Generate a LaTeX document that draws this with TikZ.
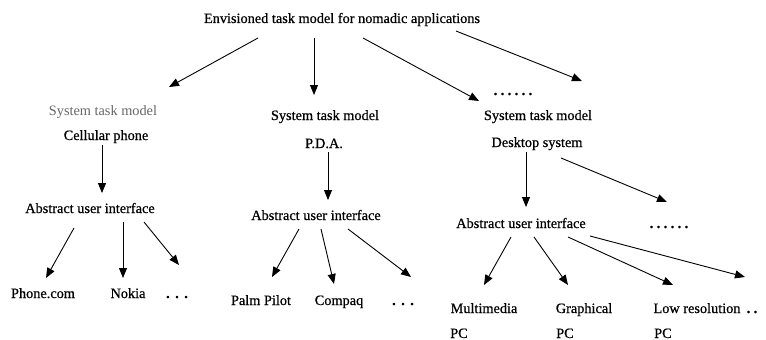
\documentclass[tikz,border=0pt]{standalone}
\usepackage{fontspec}
\setmainfont{Liberation Serif}
\newfontfamily\heavyserif[FakeBold=0.6]{Liberation Serif}
\usetikzlibrary{arrows.meta}
\tikzset{
  lbl/.style={inner sep=0pt, anchor=base, font=\heavyserif\fontsize{14.3}{17}\selectfont},
  lblw/.style={lbl, anchor=base west},
  lightlbl/.style={lbl, font=\rmfamily\fontsize{14.3}{17}\selectfont, text=black!60},
  conn/.style={line width=0.9pt, -{Triangle[length=10pt,width=8pt]}},
}
\newcommand\dotrow[2]{\textbf{.}\foreach \i in {2,...,#1}{\kern#2\textbf{.}}}
\begin{document}
\begin{tikzpicture}[x=1pt,y=-1pt]
\useasboundingbox[fill=white] (0,0) rectangle (766,340);
% texts
\node[lbl] (title) at (342,23) {Envisioned task model for nomadic applications};
\node[lightlbl] (stm1) at (103,115) {System task model};
\node[lbl] (cell) at (106,140) {Cellular phone};
\node[lbl] (stm2) at (325,120) {System task model};
\node[lbl] (pda) at (324,148) {P.D.A.};
\node[lbl] (stm3) at (538,120) {System task model};
\node[lbl] (desk) at (537,147) {Desktop system};
\node[lbl] (dotsA) at (513,95) {\dotrow{6}{3.4pt}};
\node[lbl] (aui1) at (90,213) {Abstract user interface};
\node[lbl] (aui2) at (316,220) {Abstract user interface};
\node[lbl] (aui3) at (521,228) {Abstract user interface};
\node[lbl] (dotsB) at (669,228) {\dotrow{6}{3.4pt}};
\node[lbl] (phone) at (43,298) {Phone.com};
\node[lbl] (nokia) at (128,298) {Nokia};
\node[lbl] (dots1) at (177,298) {\dotrow{3}{5.5pt}};
\node[lbl] (palm) at (261,305) {Palm Pilot};
\node[lbl] (compaq) at (339,305) {Compaq};
\node[lbl] (dots2) at (403,305) {\dotrow{3}{5.5pt}};
\node[lbl] (multi) at (484,313) {Multimedia};
\node[lblw] (pc1) at (450,338) {PC};
\node[lbl] (graph) at (584,313) {Graphical};
\node[lblw] (pc2) at (556,338) {PC};
\node[lbl] (lowres) at (697,313) {Low resolution};
\node[lbl] (dots3) at (752,313) {\dotrow{2}{3.4pt}};
\node[lblw] (pc3) at (654,338) {PC};
% connector end points
\coordinate (t1) at (258,38);  \coordinate (e1) at (169,87);
\coordinate (t2) at (314,38);  \coordinate (e2) at (314,95);
\coordinate (t3) at (363,38);  \coordinate (e3) at (479,101);
\coordinate (t4) at (456,31);  \coordinate (e4) at (582,81);
\coordinate (c1) at (102,145); \coordinate (ce1) at (102,193);
\coordinate (p1) at (328,152); \coordinate (pe1) at (328,200);
\coordinate (d1) at (526,152); \coordinate (de1) at (526,207);
\coordinate (d2) at (561,158); \coordinate (de2) at (667,202);
\coordinate (a1) at (74,228);  \coordinate (ae1) at (46,278);
\coordinate (a2) at (123,222); \coordinate (ae2) at (123,278);
\coordinate (a3) at (144,222); \coordinate (ae3) at (179,265);
\coordinate (b1) at (299,229); \coordinate (be1) at (272,277);
\coordinate (b2) at (321,229); \coordinate (be2) at (334,284);
\coordinate (b3) at (348,229); \coordinate (be3) at (411,277);
\coordinate (g1) at (511,237); \coordinate (ge1) at (484,285);
\coordinate (g2) at (534,237); \coordinate (ge2) at (568,285);
\coordinate (g3) at (568,237); \coordinate (ge3) at (673,285);
\coordinate (g4) at (590,236); \coordinate (ge4) at (745,277);
% connectors
\foreach \s/\e in {t1/e1,t2/e2,t3/e3,t4/e4,c1/ce1,p1/pe1,d1/de1,d2/de2,
  a1/ae1,a2/ae2,a3/ae3,b1/be1,b2/be2,b3/be3,g1/ge1,g2/ge2,g3/ge3,g4/ge4}
  \draw[conn] (\s) -- (\e);
\end{tikzpicture}
\end{document}
